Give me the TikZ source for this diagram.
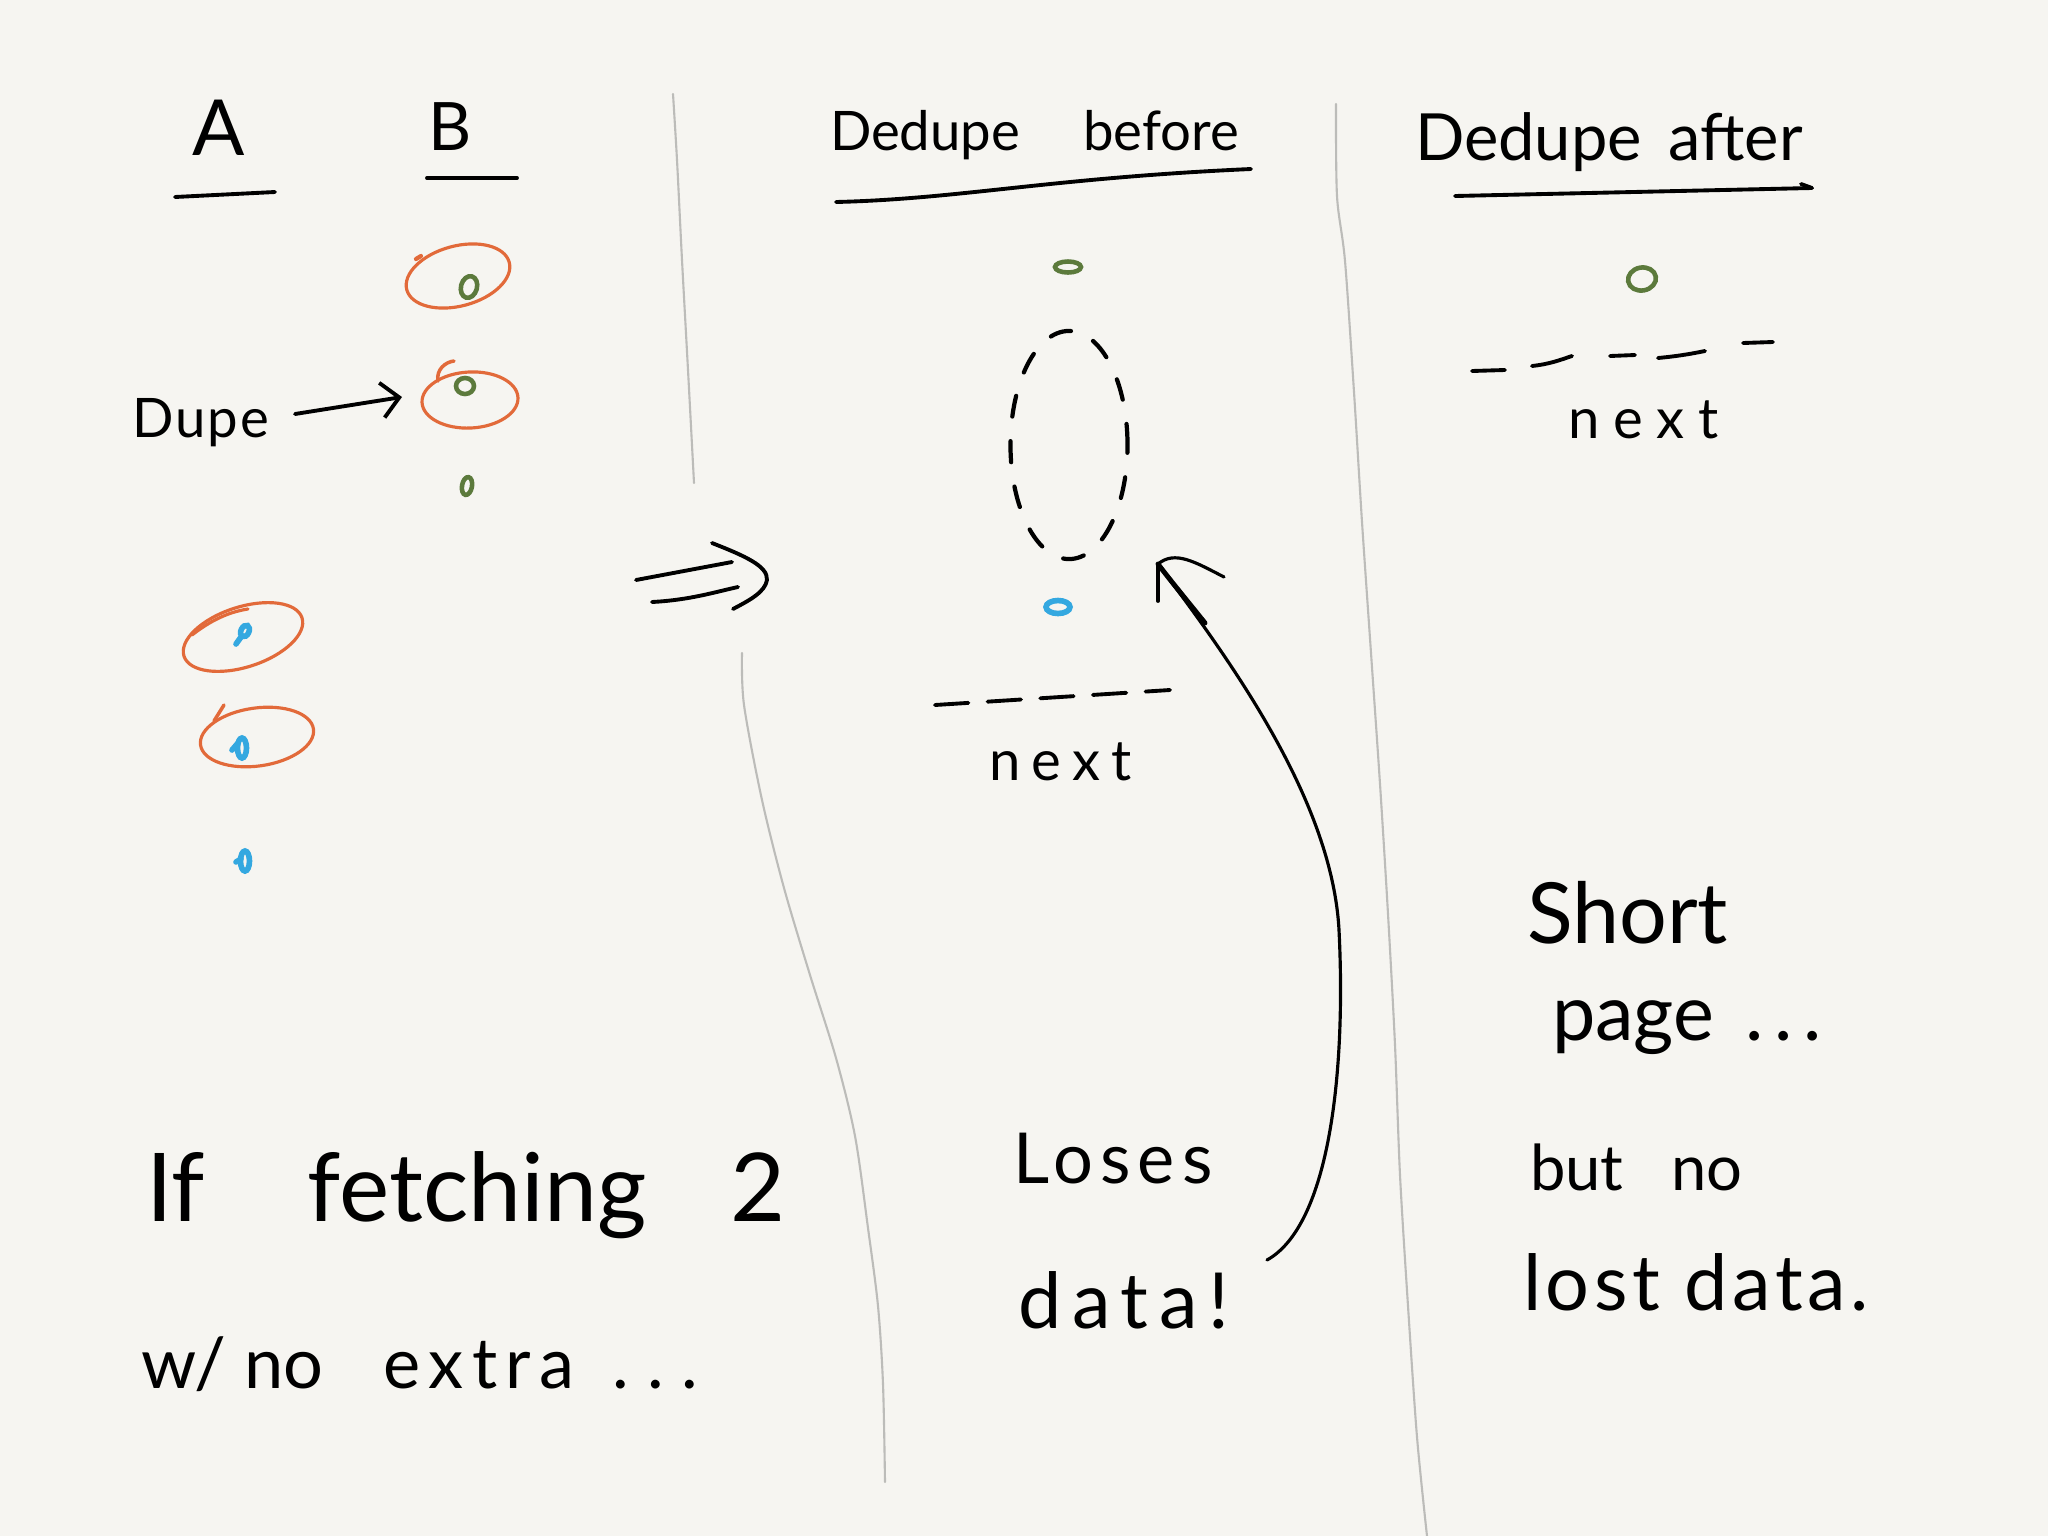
\documentclass[tikz,border=0pt]{standalone}
\usepackage{fontspec}
\newfontfamily\handfont{Lato}
\usetikzlibrary{arrows.meta,shapes.geometric}
\definecolor{paper}{RGB}{246,245,241}
\definecolor{penorange}{RGB}{226,106,58}
\definecolor{pengreen}{RGB}{92,122,60}
\definecolor{penblue}{RGB}{52,168,224}
\definecolor{divider}{RGB}{188,188,185}
\newcommand\hfs[1]{\handfont\fontsize{#1}{#1}\selectfont}
\newcommand\lsp[1]{\addfontfeatures{LetterSpace=#1}}
\begin{document}
\begin{tikzpicture}[x=0.01cm,y=-0.01cm,
  pen/.style={line width=1.1pt,line cap=round,line join=round,draw=black},
  divline/.style={line width=0.6pt,draw=divider,line cap=round},
  loopring/.style={draw=penorange,line width=0.9pt,ellipse,inner sep=0pt,outer sep=0pt},
  gmark/.style={draw=pengreen,line width=1.3pt,line cap=round},
  bmark/.style={draw=penblue,line width=1.6pt,line cap=round},
  txt/.style={anchor=base west,inner sep=0pt,outer sep=0pt,text=black},
  gapring/.style={draw=black,ellipse,line width=1.2pt,dash pattern=on 6pt off 7pt,line cap=round,inner sep=0pt},
]
\fill[paper] (0,0) rectangle (2048,1536);
\useasboundingbox (0,0) rectangle (2048,1536);

% dividers
\draw[divline] plot[smooth] coordinates {(673,94) (677,160) (682,260) (688,370) (694,483)};
\draw[divline] plot[smooth] coordinates {(742,653) (744,705) (762,800) (784,888) (810,975) (836,1058) (855,1136) (868,1228) (878,1306) (883,1384) (885,1482)};
\draw[divline] plot[smooth] coordinates {(1336,104) (1337,196) (1345,261) (1354,392) (1362,522) (1371,653) (1380,784) (1388,914) (1395,1045) (1400,1175) (1408,1306) (1417,1437) (1427,1536)};

% left panel headings
\node[txt,font={\hfs{22}}] (colA) at (192,155) {A};
\node[txt,font={\hfs{19}}] (colB) at (428,150) {B};
\draw[pen] (175,197) -- (275,192);
\draw[pen] (427,178) -- (517,178);

% orange loops
\node[loopring,minimum width=1.06cm,minimum height=0.60cm,rotate=15] (e1) at (458,276) {};
\node[loopring,minimum width=0.96cm,minimum height=0.56cm,rotate=3] (e2) at (470,400) {};
\node[loopring,minimum width=1.24cm,minimum height=0.60cm,rotate=18] (e3) at (243,637) {};
\node[loopring,minimum width=1.14cm,minimum height=0.58cm,rotate=8] (e4) at (257,737) {};
\draw[penorange,line width=1.2pt,line cap=round] (416,259) -- (421,256);
\draw[penorange,line width=1pt,line cap=round] (454,361) .. controls (445,362) and (436,370) .. (438,381);
\draw[penorange,line width=0.9pt,line cap=round] (192,635) .. controls (210,621) and (228,612) .. (248,609);
\draw[penorange,line width=1pt,line cap=round] (214,721) -- (224,705);

% green marks
\draw[gmark,rotate around={-15:(469,287)}] (469,287) ellipse (8 and 11);
\draw[gmark] (465,386) ellipse (9 and 8);
\draw[gmark,rotate around={-10:(467,486)}] (467,486) ellipse (5 and 9);
\draw[gmark] (1068,267) ellipse (13 and 5.5);
\draw[gmark,rotate around={10:(1642,279)}] (1642,279) ellipse (14 and 11.5);

% blue marks
\draw[bmark,rotate around={-25:(245,631)}] (245,631) ellipse (4 and 6);
\draw[bmark] (241,637) -- (236,644);
\draw[bmark] (242,748) ellipse (4.5 and 10);
\draw[bmark] (232,750) -- (238,743);
\draw[bmark] (245,861) ellipse (4.5 and 10);
\draw[bmark] (236,862) -- (241,859);
\draw[bmark] (1058,607) ellipse (12 and 6.5);

% Dupe arrow
\node[txt,font={\hfs{15.5}\lsp{4}}] (dupe) at (132,437) {Dupe};
\coordinate (dupeFrom) at (295,414);
\coordinate (dupeTo) at (402,397);
\draw[pen,-{Straight Barb[length=5pt,width=10pt]}] (dupeFrom) -- (dupeTo);

% double arrow
\draw[pen] (636,580) -- (732,562);
\draw[pen] (652,602) .. controls (690,600) and (715,592) .. (738,587);
\draw[pen] (712,543) .. controls (745,556) and (768,566) .. (767,580) .. controls (765,592) and (750,600) .. (733,609);

% middle panel
\node[txt,font={\hfs{15.5}}] (before) at (830,150) {Dedupe\hspace{18pt}before};
\draw[pen] (836,202) .. controls (960,199) and (1050,178) .. (1251,169);
\node[gapring,minimum width=1.17cm,minimum height=2.28cm] (gap) at (1069,445) {};
\draw[pen,dash pattern=on 9.5pt off 5.5pt] (935,705) -- (1170,690);
\node[txt,font={\hfs{16}\lsp{20}}] (nextA) at (989,780) {next};
\node[txt,font={\hfs{20}\lsp{10}}] (loses) at (1013,1183) {Loses};
\node[txt,font={\hfs{22}\lsp{14}}] (data) at (1018,1328) {data!};
\coordinate (lossStart) at (1267,1260);
\coordinate (lossTip) at (1158,564);
\draw[pen,line width=0.9pt] (lossStart) .. controls (1330,1225) and (1346,1070) .. (1339,930) .. controls (1332,800) and (1230,660) .. (lossTip);
\draw[pen,line width=1.4pt] (1205,623) .. controls (1185,598) and (1170,580) .. (lossTip);
\draw[pen] (lossTip) -- (1158,601);
\draw[pen,line width=0.9pt] (lossTip) .. controls (1175,550) and (1195,562) .. (1224,577);

% right panel
\node[txt,font={\hfs{18.5}}] (after) at (1415,160) {Dedupe\hspace{7.5pt}after};
\draw[pen] (1455,196) -- (1812,188);
\draw[pen] (1801,184) -- (1812,188);
\draw[pen] (1472,371) -- (1505,370);
\draw[pen] (1532,366) .. controls (1550,364) and (1560,360) .. (1572,356);
\draw[pen] (1610,356) -- (1635,355);
\draw[pen] (1658,358) .. controls (1680,356) and (1695,353) .. (1705,351);
\draw[pen] (1743,343) -- (1773,342);
\node[txt,font={\hfs{16}\lsp{25}}] (nextB) at (1568,438) {next};
\node[txt,font={\hfs{24}}] (short) at (1527,943) {Short};
\node[txt,font={\hfs{22}}] (page) at (1552,1040) {page\hspace{9pt}.\hspace{3pt}.\hspace{3pt}.};
\node[txt,font={\hfs{18}}] (butno) at (1530,1190) {but\hspace{9pt} no};
\node[txt,font={\hfs{22}\lsp{6}}] (lost) at (1523,1310) {lost data.};

% bottom left text
\node[txt,font={\hfs{27}}] (fetch) at (146,1221) {If\hspace{22.5pt} fetching\hspace{17pt} 2};
\node[txt,font={\hfs{20}}] (extra) at (141,1388) {w/ no\hspace{12pt} {\lsp{12}extra}\hspace{11pt}.\hspace{5pt}.\hspace{5pt}.};
\end{tikzpicture}
\end{document}
